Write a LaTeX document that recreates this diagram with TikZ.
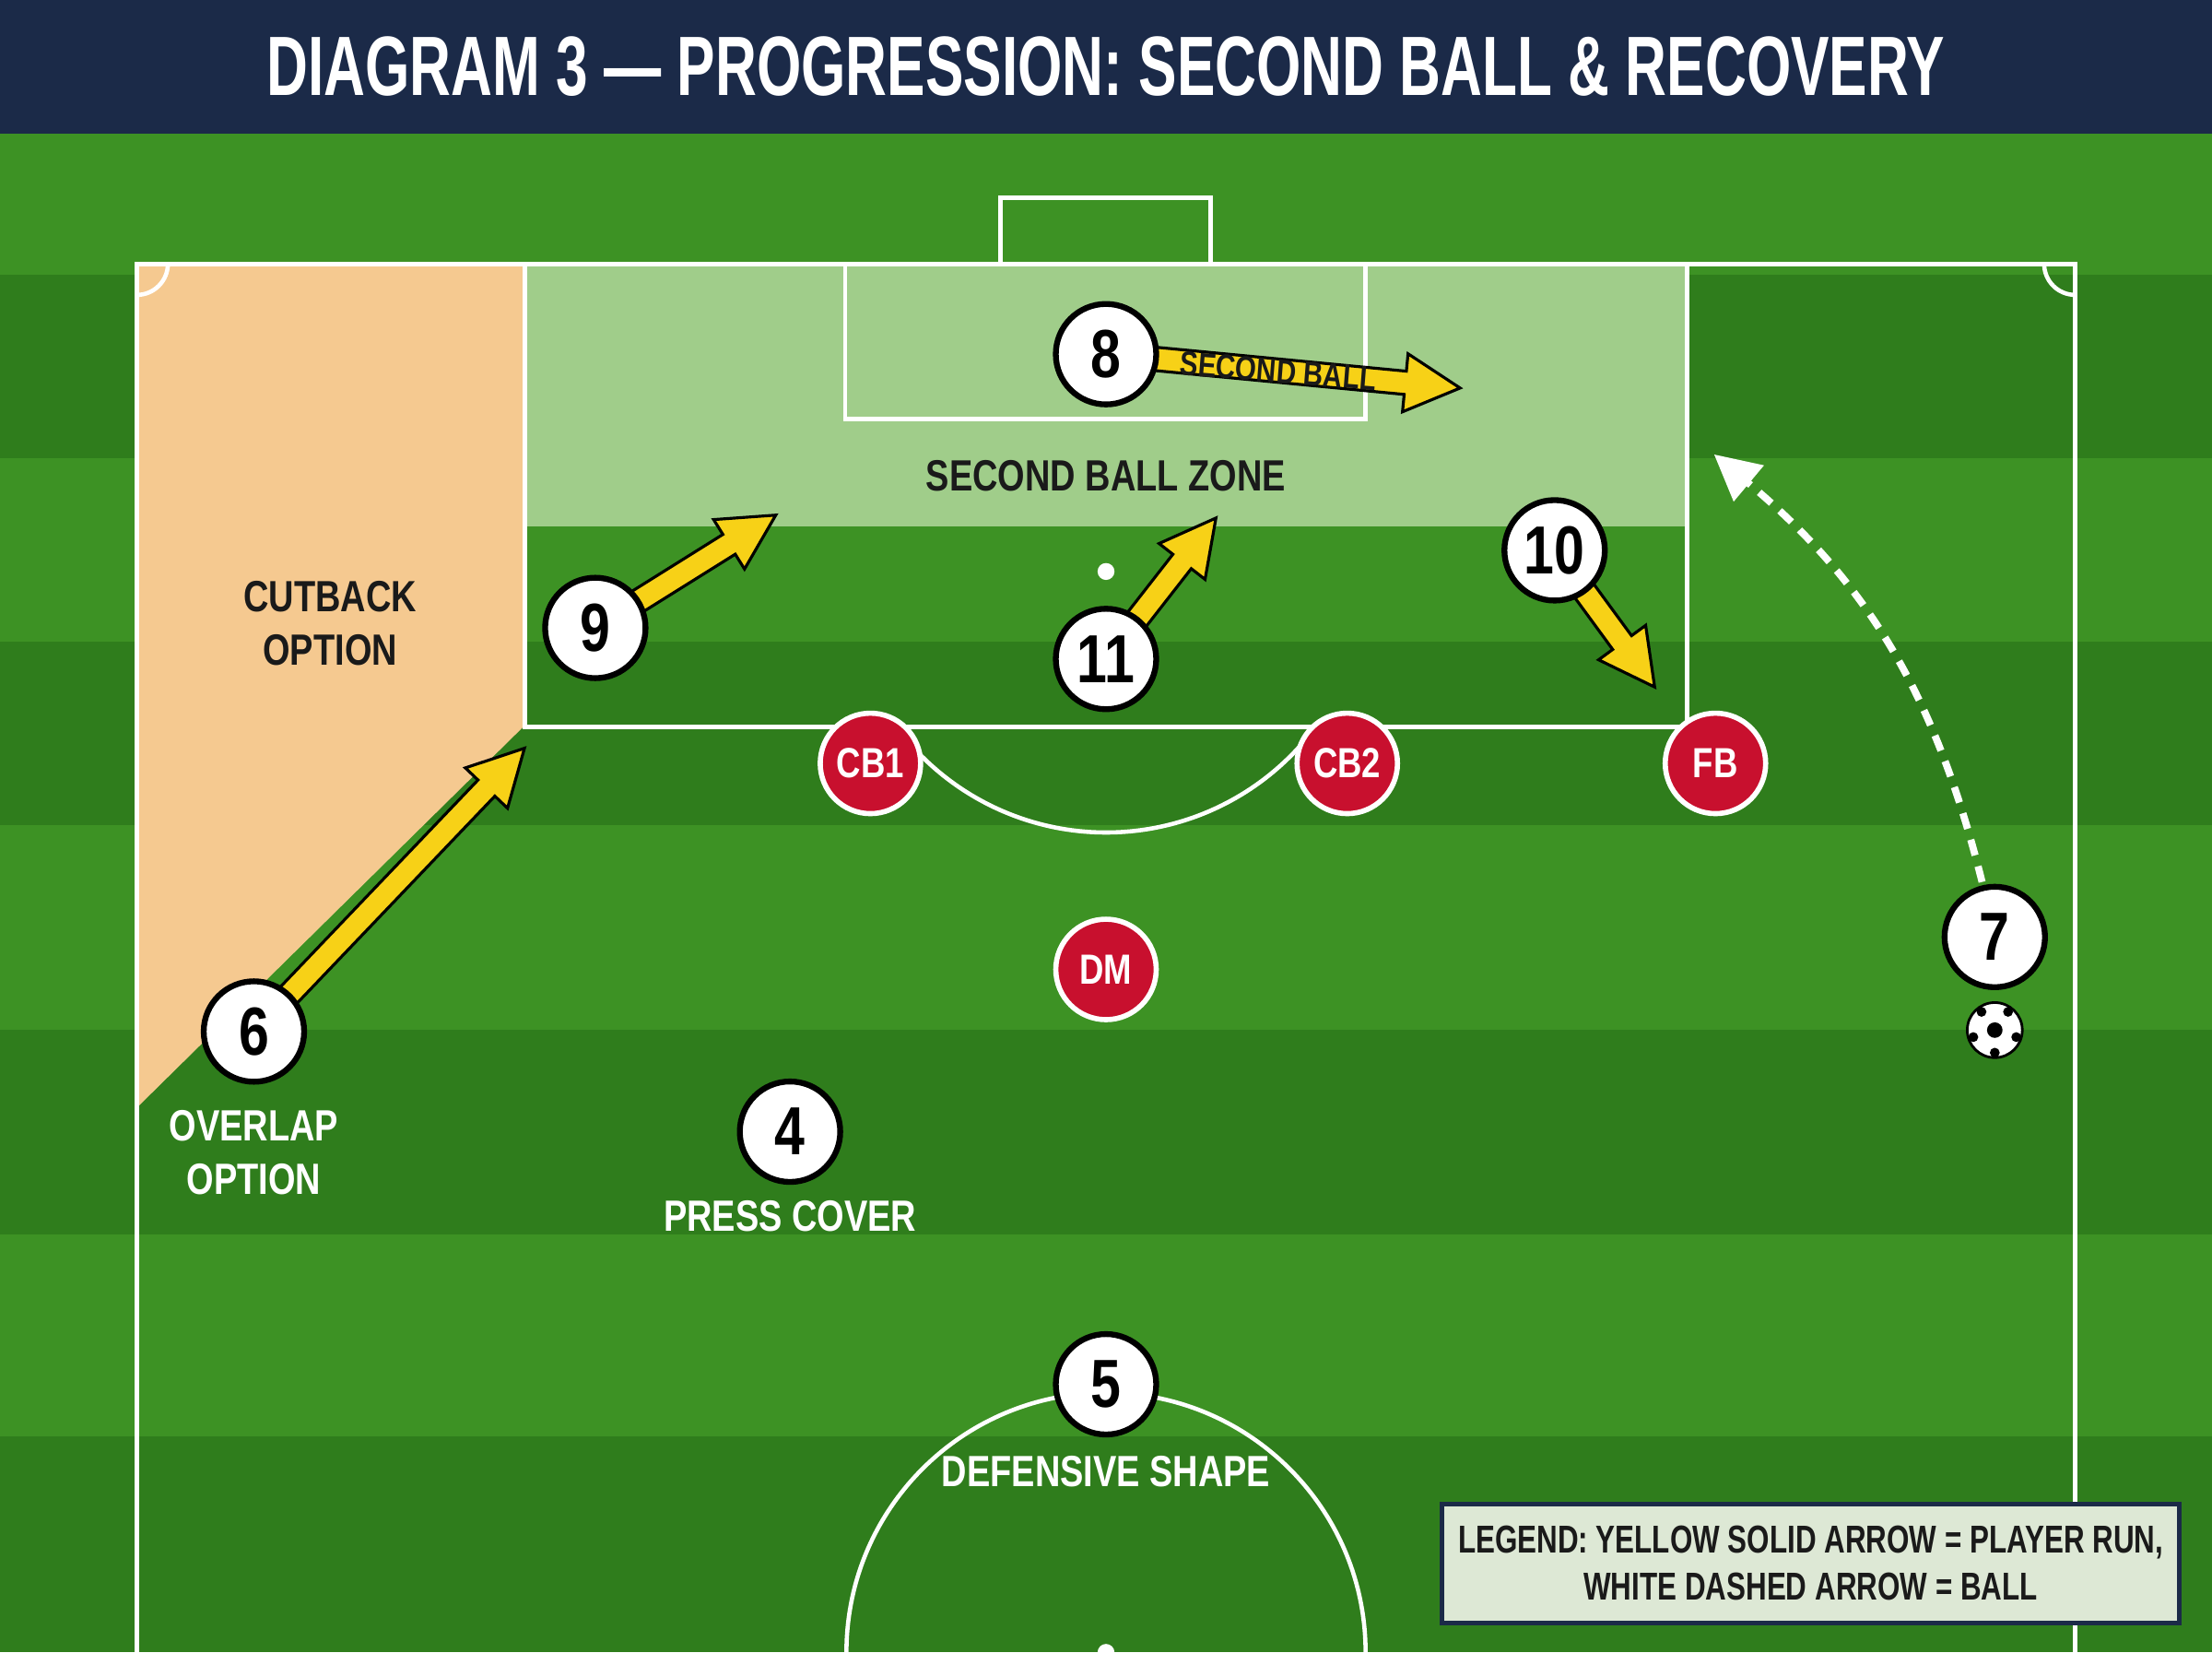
\documentclass[tikz,border=0pt]{standalone}
\usepackage{fontspec}
\setmainfont{Liberation Sans}[FakeStretch=0.8]
\usetikzlibrary{calc,arrows.meta}
\definecolor{navy}{HTML}{1B2A48}
\definecolor{gdark}{HTML}{2F7D1C}
\definecolor{glight}{HTML}{3D9224}
\definecolor{cut}{HTML}{F5C990}
\definecolor{zonec}{HTML}{A0CD8A}
\definecolor{ylw}{HTML}{F7D117}
\definecolor{redp}{HTML}{C8102E}
\definecolor{txt}{HTML}{1A1A1A}
\definecolor{legc}{HTML}{DDE8D5}
\tikzset{
 pl/.style={circle,fill=white,draw=black,line width=1.8pt,minimum size=31pt,inner sep=0pt,font=\bfseries\fontsize{21}{21}\selectfont},
 op/.style={circle,fill=redp,draw=white,line width=1.6pt,minimum size=31pt,inner sep=0pt,text=white,font=\bfseries\fontsize{13}{13}\selectfont},
 lbl/.style={font=\bfseries\fontsize{13.5}{16.5}\selectfont,align=center},
 ln/.style={white,line width=1.3pt},
 yarr/.style={fill=ylw,draw=black,line width=0.9pt,line join=miter}
}
\newcommand\yarrow[2]{%
 \path let \p1=($(#2)-(#1)$) in \pgfextra{\pgfmathsetmacro\ang{atan2(\y1,\x1)}\pgfmathsetmacro\len{veclen(\x1,\y1)}\xdef\gang{\ang}\xdef\glen{\len}};
 \draw[yarr,shift={(#1)},rotate=\gang] (0pt,-3.6pt) -- (\glen pt-17pt,-3.6pt) -- (\glen pt-17pt,-9pt) -- (\glen pt,0pt) -- (\glen pt-17pt,9pt) -- (\glen pt-17pt,3.6pt) -- (0pt,3.6pt) -- cycle;}
\begin{document}
\begin{tikzpicture}[x=0.015306cm,y=-0.015306cm]
\useasboundingbox (0,0) rectangle (1568,1171);
% stripes
\fill[glight] (0,95) rectangle (1568,1171);
\foreach \a/\b in {195/325,455/585,730/875,1018/1171}{\fill[gdark] (0,\a) rectangle (1568,\b);}
% title
\fill[navy] (0,0) rectangle (1568,95);
\node[text=white,font=\bfseries\fontsize{26}{26}\selectfont,xscale=0.85,transform shape] (title) at (784,47) {DIAGRAM 3 — PROGRESSION: SECOND BALL \& RECOVERY};
% zones
\fill[cut] (97,187) -- (371,187) -- (371,515) -- (97,785) -- cycle;
\fill[zonec] (372,187) rectangle (1196,373);
% pitch lines
\draw[ln] (97,1171) -- (97,187) -- (1471,187) -- (1471,1171);
\draw[ln] (709,187) -- (709,140) -- (858,140) -- (858,187);
\draw[ln] (372,187) rectangle (1196,515);
\draw[ln] (599,187) rectangle (968,297);
\fill[white] (784,405) circle (6);
\draw[ln] (635.3,515) arc[start angle=143.5,end angle=36.5,radius=185];
\draw[ln] (97,209) arc[start angle=90,end angle=0,radius=22];
\draw[ln] (1449,187) arc[start angle=180,end angle=90,radius=22];
\draw[ln] (600,1171) arc[start angle=180,end angle=360,radius=184];
\fill[white] (784,1171) circle (6);
% labels
\node[lbl,text=txt] (cutl) at (234,442) {CUTBACK\\OPTION};
\node[lbl,text=txt] (zone) at (784,337) {SECOND BALL ZONE};
\node[lbl,text=white] (ovl) at (180,817) {OVERLAP\\OPTION};
\node[lbl,text=white] (pcl) at (560,862) {PRESS COVER};
\node[lbl,text=white] (dsl) at (784,1043) {DEFENSIVE SHAPE};
% arrow end points
\coordinate (e8) at (1035,275);
\coordinate (e9) at (550,365);
\coordinate (e11) at (862,367);
\coordinate (e10) at (1173,487);
\coordinate (e6) at (372,530);
\coordinate (s8) at (784,251);
\coordinate (s9) at (422,445);
\coordinate (s11) at (784,467);
\coordinate (s10) at (1102,390);
\coordinate (s6) at (180,731);
\yarrow{s8}{e8}
\yarrow{s9}{e9}
\yarrow{s11}{e11}
\yarrow{s10}{e10}
\yarrow{s6}{e6}
\node[rotate=-4.5,font=\bfseries\fontsize{10.5}{10.5}\selectfont,text=txt] (sbt) at (906,263) {SECOND BALL};
% ball path
\coordinate (bs) at (1405,625);
\coordinate (be) at (1215,322);
\draw[white,line width=2.2pt,dash pattern=on 5pt off 3.5pt,-{Triangle[length=14pt,width=14pt]}] (bs) to[bend right=18] (be);
% players
\node[pl] (p8) at (s8) {8};
\node[pl] (p9) at (s9) {9};
\node[pl] (p11) at (s11) {11};
\node[pl] (p10) at (s10) {10};
\node[pl] (p6) at (s6) {6};
\node[pl] (p4) at (560,802) {4};
\node[pl] (p5) at (784,981) {5};
\node[pl] (p7) at (1414,664) {7};
\node[op] (cb1) at (617,541) {CB1};
\node[op] (cb2) at (955,541) {CB2};
\node[op] (fb) at (1216,541) {FB};
\node[op] (dm) at (784,687) {DM};
% ball
\node[circle,fill=white,draw=black,line width=0.8pt,minimum size=17pt,inner sep=0pt] (ball) at (1414,730) {};
\fill[black] (1414,730) circle (5.5);
\foreach \a in {18,90,162,234,306}{\fill[black] ($(ball.center)+(\a:16)$) circle (3.5);}
% legend
\draw[navy,line width=1.5pt,fill=legc] (1022,1066) rectangle (1545,1150);
\node[text=txt,font=\bfseries\fontsize{12}{14.5}\selectfont,align=center,xscale=0.93,transform shape] (leg) at (1283.5,1108) {LEGEND: YELLOW SOLID ARROW = PLAYER RUN,\\WHITE DASHED ARROW = BALL};
\end{tikzpicture}
\end{document}
